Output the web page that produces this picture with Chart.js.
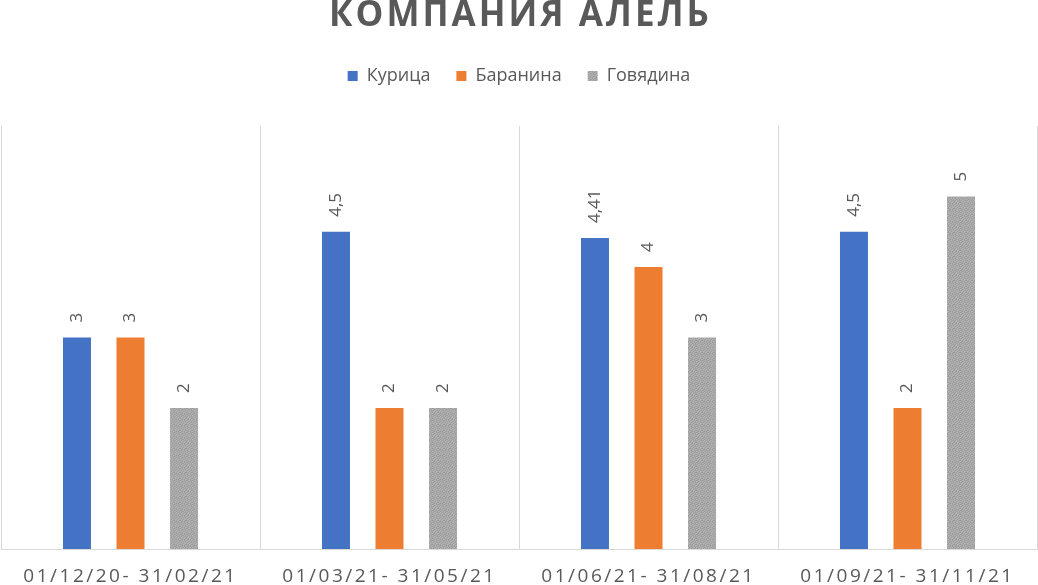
<!DOCTYPE html>
<html>
<head>
<meta charset="utf-8">
<script src="https://cdn.jsdelivr.net/npm/chart.js@4.4.1/dist/chart.umd.min.js"></script>
<style>
  html, body { margin: 0; padding: 0; background: #fff; }
  #wrap { width: 1038px; height: 585px; }
</style>
</head>
<body>
<div id="wrap"><canvas id="chart"></canvas></div>
<script>
const chartTitle = "КОМПАНИЯ АЛЕЛЬ";
const periods = ["01/12/20- 31/02/21", "01/03/21- 31/05/21", "01/06/21- 31/08/21", "01/09/21- 31/11/21"];
const chicken = [3, 4.5, 4.41, 4.5];
const lamb = [3, 2, 4, 2];
const beef = [2, 2, 3, 5];

const textColor = "#595959";
const gridColor = "#d9d9d9";

// зернистая заливка для серых столбцов
function makeGrainPattern() {
  const cells = [
    "ACBDAB", "DBACDA", "BADBCC", "CDBADB", "ABCDBA", "DCABAD"
  ];
  const shades = { A: "#9c9c9c", B: "#acacac", C: "#a3a3a3", D: "#b3b3b3" };
  const c = document.createElement("canvas");
  c.width = 6;
  c.height = 6;
  const g = c.getContext("2d");
  cells.forEach((row, j) => {
    for (let i = 0; i < row.length; i++) {
      g.fillStyle = shades[row[i]];
      g.fillRect(i, j, 1, 1);
    }
  });
  return g.createPattern(c, "repeat");
}
const grain = makeGrainPattern();

function formatValue(v) {
  return String(v).replace(".", ",");
}

// отступ под легендой
const legendGap = {
  id: "legendGap",
  beforeInit(chart) {
    const fit = chart.legend.fit;
    chart.legend.fit = function () {
      fit.bind(chart.legend)();
      this.height += 31;
    };
  }
};

const spacedText = {
  id: "spacedText",
  afterDatasetsDraw(chart) {
    const ctx = chart.ctx;
    ctx.save();
    ctx.font = '17px "Open Sans"';
    ctx.fillStyle = textColor;
    ctx.textAlign = "left";
    ctx.textBaseline = "middle";
    chart.data.datasets.forEach((ds, di) => {
      chart.getDatasetMeta(di).data.forEach((bar, i) => {
        ctx.save();
        ctx.translate(bar.x, bar.y - 15);
        ctx.rotate(-Math.PI / 2);
        ctx.fillText(formatValue(ds.data[i]), 0, 0);
        ctx.restore();
      });
    });
    ctx.restore();
    // подписи оси X рисуются после этого с разрядкой
    ctx.letterSpacing = "2.5px";
  },
  afterDraw(chart) {
    const ctx = chart.ctx;
    ctx.letterSpacing = "0px";
    ctx.save();
    ctx.font = 'bold 35px "Open Sans"';
    ctx.letterSpacing = "3px";
    ctx.fillStyle = textColor;
    ctx.textAlign = "center";
    ctx.textBaseline = "alphabetic";
    ctx.fillText(chartTitle, chart.width / 2 + 1.5, 26);
    ctx.restore();
  }
};

new Chart(document.getElementById("chart"), {
  type: "bar",
  data: {
    labels: periods,
    datasets: [
      { label: "Курица", data: chicken, backgroundColor: "#4472c4" },
      { label: "Баранина", data: lamb, backgroundColor: "#ed7d31" },
      { label: "Говядина", data: beef, backgroundColor: grain }
    ]
  },
  options: {
    responsive: true,
    maintainAspectRatio: false,
    animation: false,
    categoryPercentage: 0.62,
    barPercentage: 0.523,
    layout: { padding: { top: 41, left: 1, right: 1, bottom: 0 } },
    plugins: {
      title: { display: false },
      tooltip: { enabled: false },
      legend: {
        position: "top",
        labels: {
          font: { family: "Open Sans", size: 18 },
          color: textColor,
          boxWidth: 10,
          boxHeight: 10,
          padding: 26
        }
      }
    },
    scales: {
      x: {
        grid: { display: true, offset: true, color: gridColor, drawTicks: false },
        border: { display: true, color: gridColor },
        afterFit(scale) {
          scale.height = 36;
        },
        ticks: {
          z: 1,
          color: textColor,
          font: { family: "Open Sans", size: 19 },
          padding: 16,
          maxRotation: 0
        }
      },
      y: {
        display: false,
        min: 0,
        max: 6
      }
    }
  },
  plugins: [legendGap, spacedText]
});
</script>
</body>
</html>
